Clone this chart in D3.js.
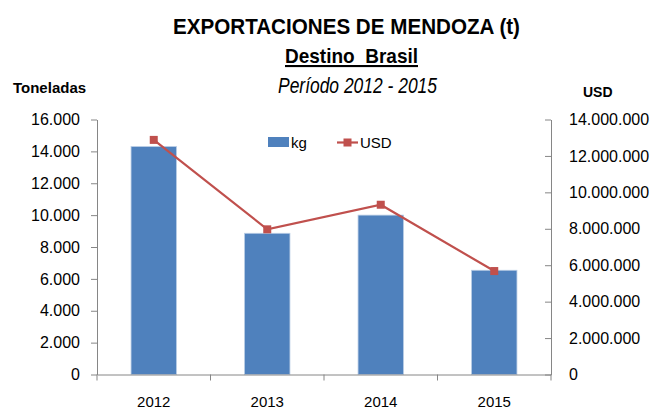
<!DOCTYPE html>
<html>
<head>
<meta charset="utf-8">
<script src="https://cdn.jsdelivr.net/npm/d3@7"></script>
<style>
  body { margin: 0; background: #fff; }
  svg { display: block; font-family: "Liberation Sans", Arial, sans-serif; }
  .ttl { white-space: pre; }
</style>
</head>
<body>
<div id="chart"></div>
<script>
// data
var years = ["2012", "2013", "2014", "2015"];
var kg = [14300, 8860, 10000, 6540];
var usd = [12880000, 7970000, 9320000, 5680000];
var kgTicks = [0, 2000, 4000, 6000, 8000, 10000, 12000, 14000, 16000];
var usdTicks = [0, 2000000, 4000000, 6000000, 8000000, 10000000, 12000000, 14000000];

var width = 652, height = 410;
var plot = {left: 97, right: 551, top: 119.5, bottom: 374.5};

var barColor = "#4F81BD";
var lineColor = "#C0504D";
var axisColor = "#868686";

var loc = d3.formatLocale({decimal: ",", thousands: ".", grouping: [3], currency: ["$", ""]});
var fmt = loc.format(",d");

var svg = d3.select("#chart").append("svg")
  .attr("width", width)
  .attr("height", height);

// scales
var x = d3.scaleBand()
  .domain(years)
  .range([plot.left, plot.right])
  .paddingInner(0.6)
  .paddingOuter(0.3);

var yL = d3.scaleLinear().domain([0, 16000]).range([plot.bottom, plot.top]);
var yR = d3.scaleLinear().domain([0, 14000000]).range([plot.bottom, plot.top]);

/****************************************
* Titles
*****************************************/
svg.append("text").attr("class", "ttl")
  .attr("x", 173).attr("y", 34)
  .attr("textLength", 347).attr("lengthAdjust", "spacingAndGlyphs")
  .style("font-weight", "bold").style("font-size", "22.5px")
  .text("EXPORTACIONES DE MENDOZA (t)");

svg.append("text").attr("class", "ttl")
  .attr("x", 285).attr("y", 63)
  .attr("textLength", 133).attr("lengthAdjust", "spacingAndGlyphs")
  .style("font-weight", "bold").style("font-size", "21px")
  .style("text-decoration", "underline")
  .text("Destino  Brasil");

svg.append("text").attr("class", "ttl")
  .attr("x", 278).attr("y", 93)
  .attr("textLength", 159).attr("lengthAdjust", "spacingAndGlyphs")
  .style("font-style", "italic").style("font-size", "22px")
  .text("Período 2012 - 2015");

svg.append("text")
  .attr("x", 13).attr("y", 93)
  .style("font-weight", "bold").style("font-size", "15px")
  .text("Toneladas");

svg.append("text")
  .attr("x", 583).attr("y", 97)
  .style("font-weight", "bold").style("font-size", "14px")
  .text("USD");

/****************************************
* Bars
*****************************************/
svg.append("g")
  .selectAll("rect")
  .data(years)
  .join("rect")
  .attr("x", function(d) { return x(d); })
  .attr("y", function(d, i) { return yL(kg[i]); })
  .attr("width", x.bandwidth())
  .attr("height", function(d, i) { return yL(0) - yL(kg[i]); })
  .attr("fill", barColor)
  .attr("stroke", "#B9CDE5")
  .attr("stroke-width", 0.8);

/****************************************
* Axes
*****************************************/
var gL = svg.append("g")
  .attr("transform", "translate(" + plot.left + ",0)")
  .call(d3.axisLeft(yL).tickValues(kgTicks).tickFormat(fmt).tickSizeInner(6).tickSizeOuter(0).tickPadding(11));

var gR = svg.append("g")
  .attr("transform", "translate(" + plot.right + ",0)")
  .call(d3.axisRight(yR).tickValues(usdTicks).tickFormat(fmt).tickSizeInner(-6).tickSizeOuter(0).tickPadding(18));

var gX = svg.append("g")
  .attr("transform", "translate(0," + plot.bottom + ")")
  .call(d3.axisBottom(x).tickSize(0).tickPadding(22));

// category boundary ticks
var step = x.step();
var bounds = years.map(function(d) { return x(d) - step * x.paddingOuter(); });
bounds.push(plot.right);
gX.selectAll(".bnd")
  .data(bounds)
  .join("line")
  .attr("class", "bnd")
  .attr("x1", function(d) { return d; })
  .attr("x2", function(d) { return d; })
  .attr("y1", 0).attr("y2", 6)
  .attr("stroke", axisColor);

[gL, gR, gX].forEach(function(g) {
  g.selectAll(".domain").attr("stroke", axisColor);
  g.selectAll(".tick line").attr("stroke", axisColor);
  g.selectAll("text")
    .attr("fill", "#000")
    .style("font-family", "'Liberation Sans', Arial, sans-serif")
    .style("font-size", "16px");
});
gX.selectAll("text").style("font-size", "15px");

/****************************************
* USD line
*****************************************/
var line = d3.line()
  .x(function(d, i) { return x(years[i]) + x.bandwidth() / 2; })
  .y(function(d) { return yR(d); });

svg.append("path")
  .datum(usd)
  .attr("d", line)
  .attr("fill", "none")
  .attr("stroke", lineColor)
  .attr("stroke-width", 2.2);

var ms = 8;
svg.append("g")
  .selectAll("rect")
  .data(usd)
  .join("rect")
  .attr("x", function(d, i) { return x(years[i]) + x.bandwidth() / 2 - ms / 2; })
  .attr("y", function(d) { return yR(d) - ms / 2; })
  .attr("width", ms).attr("height", ms)
  .attr("fill", lineColor);

/****************************************
* Legend
*****************************************/
var leg = svg.append("g");
leg.append("rect")
  .attr("x", 268).attr("y", 137)
  .attr("width", 21).attr("height", 10)
  .attr("fill", barColor);
leg.append("text")
  .attr("x", 291).attr("y", 148)
  .style("font-size", "15px")
  .text("kg");
leg.append("line")
  .attr("x1", 337).attr("x2", 358)
  .attr("y1", 142.5).attr("y2", 142.5)
  .attr("stroke", lineColor).attr("stroke-width", 2.2);
leg.append("rect")
  .attr("x", 347.5 - ms / 2).attr("y", 142.5 - ms / 2)
  .attr("width", ms).attr("height", ms)
  .attr("fill", lineColor);
leg.append("text")
  .attr("x", 360).attr("y", 148)
  .style("font-size", "15px")
  .text("USD");
</script>
</body>
</html>
